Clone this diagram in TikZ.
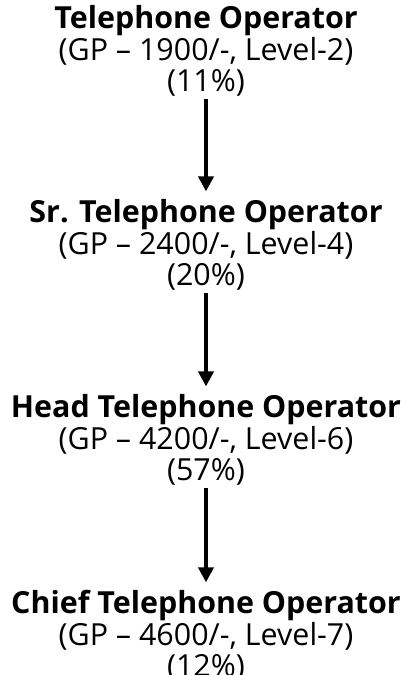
\documentclass[tikz,border=0pt]{standalone}
\usepackage{fontspec}
\setmainfont{Open Sans}
\usetikzlibrary{arrows.meta}
\newcommand{\post}[3]{\textbf{#1}\\(GP -- #2/-, Level-#3)}

\begin{document}
\begin{tikzpicture}[font=\fontsize{17.3}{17.8}\selectfont,
    grade/.style={align=center, inner sep=0pt},
    promo/.style={line width=0.08cm, -{Triangle[width=0.3cm, length=0.3cm]}}]
    \useasboundingbox (0, 0) rectangle (8.12, -13.5);

    \node (top) [grade] at (4.12, -1.02) {\post{Telephone Operator}{1900}{2}\\(11\%)};
    \node (sr) [grade] at (4.12, -4.9) {\post{Sr. Telephone Operator}{2400}{4}\\(20\%)};
    \node (head) [grade] at (4.12, -8.8) {\post{Head Telephone Operator}{4200}{6}\\(57\%)};
    \node (chief) [grade] at (4.12, -12.72) {\post{Chief Telephone Operator}{4600}{7}\\(12\%)};

    \draw[promo] ([yshift=-0.05cm] top.south) -- ([yshift=0.16cm] sr.north);
    \draw[promo] ([yshift=-0.05cm] sr.south) -- ([yshift=0.16cm] head.north);
    \draw[promo] ([yshift=-0.05cm] head.south) -- ([yshift=0.16cm] chief.north);
\end{tikzpicture}
\end{document}
